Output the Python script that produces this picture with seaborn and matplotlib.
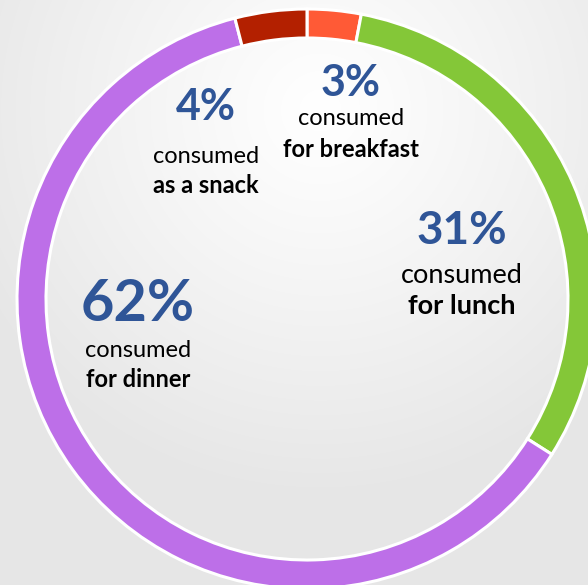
import numpy as np
import matplotlib
matplotlib.use("Agg")
import matplotlib.pyplot as plt
import seaborn as sns

# ---- data ----
meals = ["breakfast", "lunch", "dinner", "snack"]
shares = [3, 31, 62, 4]
pct_labels = ["3%", "31%", "62%", "4%"]
line1 = ["consumed", "consumed", "consumed", "consumed"]
line2 = ["for breakfast", "for lunch", "for dinner", "as a snack"]
colors = ["#FF5A36", "#84C738", "#BD6FE8", "#B32000"]

sns.set_theme(style="white")
plt.rcParams["font.family"] = ["Lato", "DejaVu Sans"]

W, H = 588, 585
fig = plt.figure(figsize=(W / 100, H / 100), dpi=100)
ax = fig.add_axes([0, 0, 1, 1])

# background: soft light-gray with a white glow near the top
yy, xx = np.mgrid[0:H, 0:W]
d = np.sqrt(((xx - 320) / 1.0) ** 2 + ((yy - 110) / 1.0) ** 2)
g = np.clip(d / 380.0, 0, 1)
val = 1.0 - 0.095 * g ** 1.1
bg = np.dstack([val, val, val])
ax.imshow(bg, extent=[0, W, 0, H], origin="upper", zorder=0, aspect="auto")

cx, cy = 307, H - 299
R, ring = 290, 29
ax.pie(shares, colors=colors, startangle=90, counterclock=False,
       radius=R, center=(cx, cy),
       wedgeprops=dict(width=ring, edgecolor="white", linewidth=2.2))

ax.set_xlim(0, W)
ax.set_ylim(0, H)
ax.set_aspect("equal")
ax.axis("off")

blue = "#2F5597"
# (x, pct baseline, line2 baseline, line1 baseline, pct size, text size)
spec = {
    "breakfast": (351, 96, 157, 125, 31, 17),
    "lunch": (462, 244, 314, 283, 33, 19.5),
    "dinner": (138, 321, 387, 357, 41.5, 17),
    "snack": (206, 120, 193, 163, 31, 17),
}
for i, m in enumerate(meals):
    x, yp, y2, y1, sp, st = spec[m]
    ax.text(x, H - yp, pct_labels[i], ha="center", va="baseline",
            fontsize=sp, fontweight="bold", color=blue, zorder=5)
    ax.text(x, H - y1, line1[i], ha="center", va="baseline",
            fontsize=st, color="black", zorder=5)
    ax.text(x, H - y2, line2[i], ha="center", va="baseline",
            fontsize=st, fontweight="bold", color="black", zorder=5)

fig.savefig("out.png", dpi=100)
